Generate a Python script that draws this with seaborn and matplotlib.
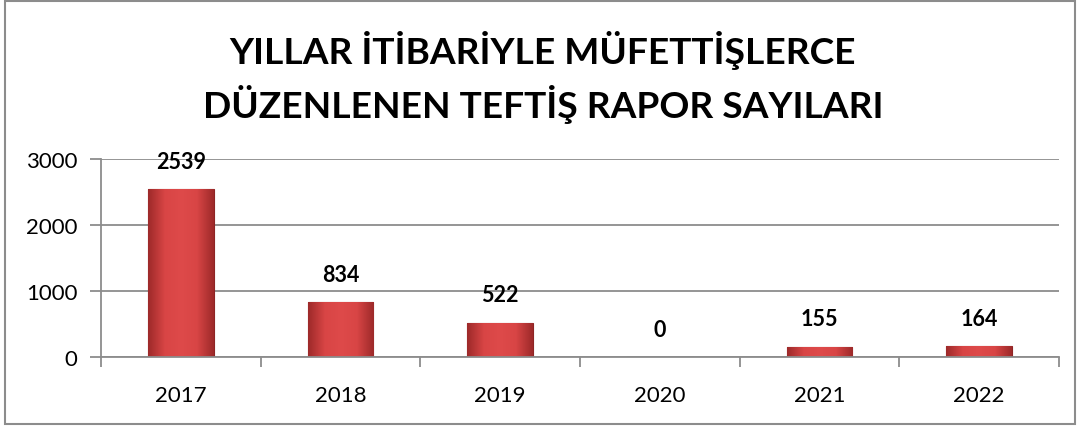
import numpy as np
import pandas as pd
import matplotlib
matplotlib.use("Agg")
import matplotlib.pyplot as plt
from matplotlib.patches import Rectangle
from matplotlib.colors import LinearSegmentedColormap
import seaborn as sns

years = ["2017", "2018", "2019", "2020", "2021", "2022"]
reports = [2539, 834, 522, 0, 155, 164]
title_lines = ["YILLAR İTİBARİYLE MÜFETTİŞLERCE", "DÜZENLENEN TEFTİŞ RAPOR SAYILARI"]

sns.set_theme(style="white")
plt.rcParams["font.family"] = ["Lato", "DejaVu Sans"]

df = pd.DataFrame({"year": years, "reports": reports})

W, H = 1083, 427
fig = plt.figure(figsize=(W / 100, H / 100), dpi=100)
fig.patch.set_facecolor("white")

def px(x0, y0, x1, y1):
    # pixel box (top-left origin) -> figure fraction [left, bottom, width, height]
    return [x0 / W, 1 - y1 / H, (x1 - x0) / W, (y1 - y0) / H]

ax = fig.add_axes(px(101, 160, 1059, 358))

sns.barplot(data=df, x="year", y="reports", color="#C73B3B", width=0.41,
            saturation=1, edgecolor="#8E2424", linewidth=0.8, ax=ax)

# shaded "bevel" look on each bar
cmap = LinearSegmentedColormap.from_list("bevel", ["#9E2A2A", "#D84545", "#DE4A4A", "#D84545", "#9E2A2A"])
grad = np.linspace(0, 1, 64).reshape(1, -1)
for p in ax.patches:
    x0, y0 = p.get_x(), p.get_y()
    w, h = p.get_width(), p.get_height()
    if h <= 0:
        continue
    im = ax.imshow(grad, cmap=cmap, aspect="auto", extent=[x0, x0 + w, y0, y0 + h],
                   zorder=p.get_zorder() + 0.1, interpolation="bicubic")
    im.set_clip_path(p)

ax.set_xlim(-0.5, len(years) - 0.5)
ax.set_ylim(0, 3000)
ax.set_yticks([0, 1000, 2000, 3000])
ax.set_xticks(np.arange(-0.5, len(years), 1.0), minor=True)
ax.grid(axis="y", color="#8C8C8C", linewidth=1.3)
ax.set_axisbelow(True)
ax.set_xlabel("")
ax.set_ylabel("")

for side in ["top", "right"]:
    ax.spines[side].set_visible(False)
for side in ["left", "bottom"]:
    ax.spines[side].set_color("#8C8C8C")
    ax.spines[side].set_linewidth(1.3)

ax.tick_params(axis="y", which="major", left=True, length=8, width=1.3, color="#8C8C8C",
               labelsize=16, labelcolor="black", pad=9)
ax.tick_params(axis="x", which="major", bottom=False, labelsize=16, labelcolor="black", pad=14)
ax.tick_params(axis="x", which="minor", bottom=True, length=7, width=1.3, color="#8C8C8C")

for i, v in enumerate(reports):
    ax.annotate(f"{v}", (i, v), xytext=(0, 20), textcoords="offset points",
                ha="center", va="center", fontsize=15.5, fontweight="bold", color="black",
                annotation_clip=False)

fig.text(543 / W, 1 - 50 / H, title_lines[0], ha="center", va="center",
         fontsize=26.7, fontweight="bold", color="black")
fig.text(543 / W, 1 - 104 / H, title_lines[1], ha="center", va="center",
         fontsize=26.7, fontweight="bold", color="black")

border = Rectangle((5 / W, 1 - 425 / H), (1075 - 5) / W, (425 - 2) / H,
                   transform=fig.transFigure, fill=False, edgecolor="#8C8C8C", linewidth=1.5)
fig.patches.append(border)

fig.savefig("out.png", dpi=100)
